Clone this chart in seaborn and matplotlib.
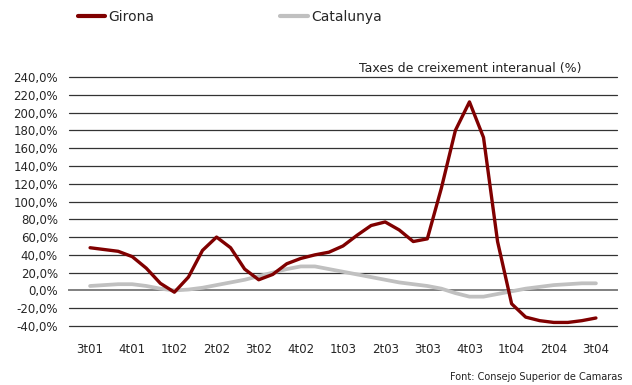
import numpy as np
import pandas as pd
import matplotlib
matplotlib.use("Agg")
import matplotlib.pyplot as plt
import seaborn as sns

quarters = ["3t01", "4t01", "1t02", "2t02", "3t02", "4t02", "1t03",
            "2t03", "3t03", "4t03", "1t04", "2t04", "3t04"]

# monthly readings, three per quarter, centred on each quarter label
girona = [48, 46, 44, 38, 25, 8, -2, 15, 45, 60, 48, 24, 12,
          18, 30, 36, 40, 43, 50, 62, 73, 77, 68, 55, 58,
          115, 180, 212, 172, 55, -15, -30, -34, -36, -36, -34, -31]
catalunya = [5, 6, 7, 7, 5, 2, 0, 1, 3, 6, 9, 12, 16,
             20, 24, 27, 27, 24, 21, 18, 15, 12, 9, 7, 5,
             2, -3, -7, -7, -4, -1, 2, 4, 6, 7, 8, 8]

months = np.arange(len(girona))
df = pd.DataFrame({
    "mes": np.concatenate([months, months]),
    "taxa": girona + catalunya,
    "serie": ["Girona"] * len(girona) + ["Catalunya"] * len(catalunya),
})

sns.set_style("white")
plt.rcParams["font.family"] = ["DejaVu Sans"]

fig = plt.figure(figsize=(6.32, 3.85), dpi=100)
ax = fig.add_axes([69 / 632, 1 - 326 / 385, 548 / 632, 249 / 385])

palette = {"Girona": "#800000", "Catalunya": "#c0c0c0"}
sizes = {"Girona": 2.4, "Catalunya": 2.7}
for name in ["Catalunya", "Girona"]:
    sns.lineplot(data=df[df["serie"] == name], x="mes", y="taxa", ax=ax,
                 color=palette[name], linewidth=sizes[name], label=name,
                 zorder=3 if name == "Girona" else 2, legend=False,
                 solid_joinstyle="round", solid_capstyle="round")

ax.set_xlim(-1.5, 37.5)
ax.set_ylim(-40, 240)
yt = np.arange(-40, 241, 20)
ax.set_yticks(yt)
ax.set_yticklabels([f"{v:.1f}".replace(".", ",") + "%" for v in yt], fontsize=8.5)
for v in yt:
    if v != 0:
        ax.axhline(v, color="#333333", linewidth=0.9, zorder=1, clip_on=False)

for s in ["top", "right", "left"]:
    ax.spines[s].set_visible(False)
ax.spines["bottom"].set_position(("data", 0))
ax.spines["bottom"].set_color("#808080")
ax.spines["bottom"].set_linewidth(1.4)
ax.spines["bottom"].set_zorder(1.5)

ax.set_xticks(np.arange(0, 37, 3))
ax.set_xticklabels(quarters, fontsize=8.5)
ax.set_xticks(np.arange(-1.5, 38, 3), minor=True)
ax.tick_params(axis="x", which="major", length=0, pad=38)
ax.tick_params(axis="x", which="minor", length=6, width=1, direction="inout", color="#222222")
ax.tick_params(axis="y", length=0, pad=8)
ax.set_xlabel("")
ax.set_ylabel("")

ax.text(0.732, 1.036, "Taxes de creixement interanual (%)", transform=ax.transAxes,
        ha="center", va="center", fontsize=9, color="#222222")

handles, labels = ax.get_legend_handles_labels()
order = [labels.index("Girona"), labels.index("Catalunya")]
leg = fig.legend([handles[i] for i in order], [labels[i] for i in order],
                 loc="center left", bbox_to_anchor=(65 / 632, 1 - 17 / 385),
                 ncol=2, frameon=False, fontsize=10, handlelength=2.0,
                 handletextpad=0.2, columnspacing=9.1)
for line in leg.get_lines():
    line.set_linewidth(3)

fig.text(622 / 632, 1 - 377 / 385, "Font: Consejo Superior de Camaras",
         ha="right", va="center", fontsize=7, color="#222222")

fig.savefig("out.png", dpi=100)
